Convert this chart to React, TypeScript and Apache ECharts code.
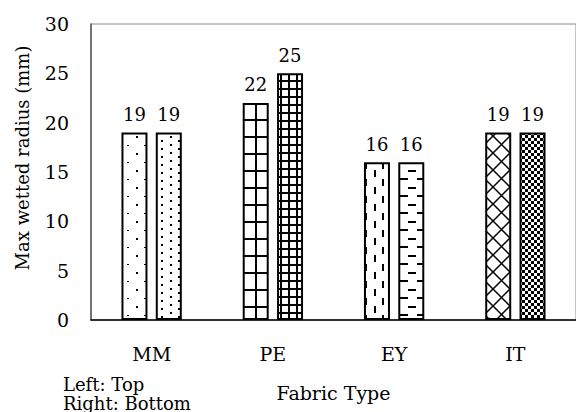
import React, { useEffect, useRef } from "react";
import * as echarts from "echarts";

const categories = ["MM", "PE", "EY", "IT"];
const topValues = [19, 22, 16, 19];
const bottomValues = [19, 25, 16, 19];
const seriesNames = ["Top", "Bottom"];
const noteLines = ["Left: Top", "Right: Bottom"];
const xTitle = "Fabric Type";
const yTitle = "Max wetted radius (mm)";

const FONT = "'DejaVu Serif', 'Liberation Serif', serif";

type Drawer = (ctx: CanvasRenderingContext2D) => void;

function makeTile(w: number, h: number, draw: Drawer) {
  const c = document.createElement("canvas");
  c.width = w;
  c.height = h;
  const ctx = c.getContext("2d") as CanvasRenderingContext2D;
  ctx.fillStyle = "#ffffff";
  ctx.fillRect(0, 0, w, h);
  ctx.fillStyle = "#000000";
  ctx.strokeStyle = "#000000";
  draw(ctx);
  return { image: c.toDataURL(), imageWidth: w, imageHeight: h, repeat: "repeat" };
}

function buildPatterns() {
  const sparseDots = makeTile(17, 17, (ctx) => {
    ctx.fillRect(0, 0, 2, 2);
    ctx.fillRect(8, 9, 2, 1);
  });
  const denseDots = makeTile(17, 8, (ctx) => {
    ctx.fillRect(0, 0, 2, 2);
    ctx.fillRect(8, 4, 2, 2);
  });
  const largeGrid = makeTile(17, 17, (ctx) => {
    ctx.fillRect(0, 0, 17, 2);
    ctx.fillRect(0, 0, 2, 17);
  });
  const smallGrid = makeTile(8, 8, (ctx) => {
    ctx.fillRect(0, 0, 8, 2);
    ctx.fillRect(0, 0, 2, 8);
  });
  const dashVert = makeTile(17, 17, (ctx) => {
    ctx.fillRect(0, 0, 2, 7);
    ctx.fillRect(8, 9, 2, 7);
  });
  const dashHorz = makeTile(17, 17, (ctx) => {
    ctx.fillRect(0, 0, 8, 2);
    ctx.fillRect(9, 8, 8, 2);
  });
  const diamond = makeTile(17, 17, (ctx) => {
    ctx.lineWidth = 1.5;
    ctx.beginPath();
    ctx.moveTo(0, 0);
    ctx.lineTo(17, 17);
    ctx.moveTo(17, 0);
    ctx.lineTo(0, 17);
    ctx.stroke();
  });
  const checker = makeTile(6, 6, (ctx) => {
    ctx.fillRect(0, 0, 3, 3);
    ctx.fillRect(3, 3, 3, 3);
  });
  return {
    top: [sparseDots, largeGrid, dashVert, diamond],
    bottom: [denseDots, smallGrid, dashHorz, checker],
  };
}

export default function App() {
  const ref = useRef<HTMLDivElement>(null);

  useEffect(() => {
    document.body.style.margin = "0";
    const el = ref.current;
    if (!el) return;
    const chart = echarts.init(el, null, { renderer: "svg" });
    const patterns = buildPatterns();

    const labelStyle = {
      show: true,
      position: "top" as const,
      distance: 9,
      fontSize: 18,
      fontFamily: FONT,
      color: "#000",
    };

    const option: any = {
      animation: false,
      backgroundColor: "#ffffff",
      grid: {
        show: true,
        left: 91,
        top: 24,
        width: 486,
        height: 296,
        borderColor: "#8c8c8c",
        borderWidth: 1,
        backgroundColor: "transparent",
      },
      xAxis: {
        type: "category",
        data: categories,
        axisLine: { show: true, lineStyle: { color: "#000", width: 1.5 } },
        axisTick: { show: false },
        axisLabel: { fontSize: 19, fontFamily: FONT, color: "#000", margin: 24 },
        name: xTitle,
        nameLocation: "middle",
        nameGap: 63,
        nameTextStyle: { fontSize: 19, fontFamily: FONT, color: "#000" },
      },
      yAxis: {
        type: "value",
        min: 0,
        max: 30,
        interval: 5,
        axisLine: { show: true, lineStyle: { color: "#595959", width: 1.5 } },
        axisTick: { show: false },
        splitLine: { show: false },
        axisLabel: { fontSize: 19, fontFamily: FONT, color: "#000", margin: 22 },
      },
      series: [
        {
          name: seriesNames[0],
          type: "bar",
          barWidth: 26,
          barGap: "32%",
          data: topValues.map((v, i) => ({ value: v, itemStyle: { color: patterns.top[i] } })),
          itemStyle: { borderColor: "#000", borderWidth: 2 },
          label: labelStyle,
        },
        {
          name: seriesNames[1],
          type: "bar",
          barWidth: 26,
          barGap: "32%",
          data: bottomValues.map((v, i) => ({ value: v, itemStyle: { color: patterns.bottom[i] } })),
          itemStyle: { borderColor: "#000", borderWidth: 2 },
          label: labelStyle,
        },
      ],
      graphic: [
        {
          type: "text",
          x: 22,
          y: 158,
          rotation: Math.PI / 2,
          style: {
            text: yTitle,
            font: `18px ${FONT}`,
            fill: "#000",
            align: "center",
            verticalAlign: "middle",
          },
        },
        {
          type: "text",
          x: 63,
          y: 375,
          style: { text: noteLines[0], font: `18px ${FONT}`, fill: "#000", align: "left", verticalAlign: "top" },
        },
        {
          type: "text",
          x: 63,
          y: 394,
          style: { text: noteLines[1], font: `18px ${FONT}`, fill: "#000", align: "left", verticalAlign: "top" },
        },
      ],
    };

    chart.setOption(option);
    return () => chart.dispose();
  }, []);

  return (
    <div
      ref={ref}
      style={{ position: "absolute", left: 0, top: 0, width: 576, height: 412 }}
    />
  );
}
